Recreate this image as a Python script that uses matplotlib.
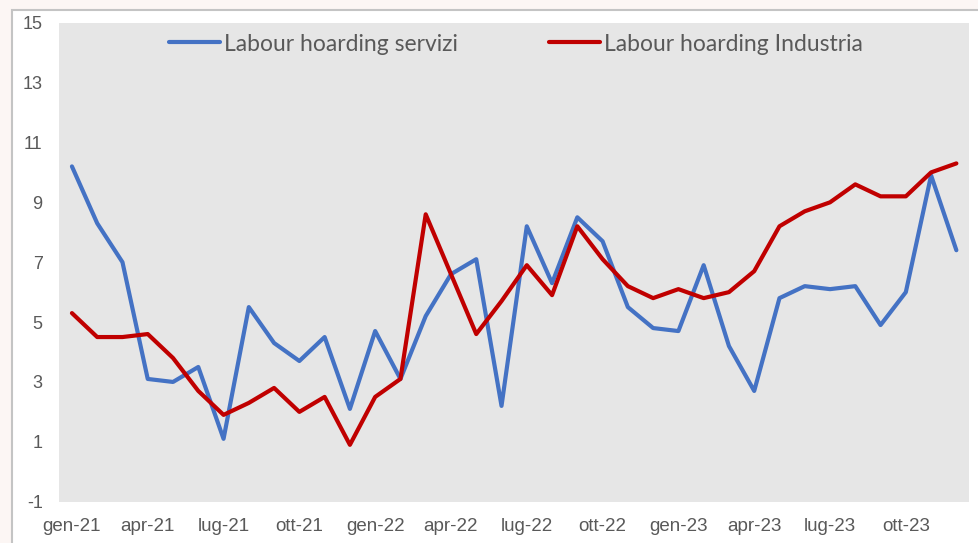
import matplotlib
matplotlib.use("Agg")
import matplotlib.pyplot as plt
from matplotlib.patches import Rectangle

months = ["gen-21", "feb-21", "mar-21", "apr-21", "mag-21", "giu-21", "lug-21", "ago-21", "set-21", "ott-21", "nov-21", "dic-21",
          "gen-22", "feb-22", "mar-22", "apr-22", "mag-22", "giu-22", "lug-22", "ago-22", "set-22", "ott-22", "nov-22", "dic-22",
          "gen-23", "feb-23", "mar-23", "apr-23", "mag-23", "giu-23", "lug-23", "ago-23", "set-23", "ott-23", "nov-23", "dic-23"]

servizi = [10.2, 8.3, 7.0, 3.1, 3.0, 3.5, 1.1, 5.5, 4.3, 3.7, 4.5, 2.1,
           4.7, 3.1, 5.2, 6.6, 7.1, 2.2, 8.2, 6.3, 8.5, 7.7, 5.5, 4.8,
           4.7, 6.9, 4.2, 2.7, 5.8, 6.2, 6.1, 6.2, 4.9, 6.0, 9.9, 7.4]

industria = [5.3, 4.5, 4.5, 4.6, 3.8, 2.7, 1.9, 2.3, 2.8, 2.0, 2.5, 0.9,
             2.5, 3.1, 8.6, 6.6, 4.6, 5.7, 6.9, 5.9, 8.2, 7.1, 6.2, 5.8,
             6.1, 5.8, 6.0, 6.7, 8.2, 8.7, 9.0, 9.6, 9.2, 9.2, 10.0, 10.3]

series_names = ["Labour hoarding servizi", "Labour hoarding Industria"]
y_ticks = [-1, 1, 3, 5, 7, 9, 11, 13, 15]

W, H = 979, 543
fig = plt.figure(figsize=(W / 100, H / 100), dpi=100)
fig.patch.set_facecolor("#fcf6f4")

# white chart area with grey border (top and left)
fig.patches.append(Rectangle((12.5 / W, -0.05), 1.1, (H - 10) / H + 0.05,
                             transform=fig.transFigure, facecolor="white",
                             edgecolor="#c4c4c4", linewidth=1.5, zorder=-5))

left, right = 59.3 / W, 969 / W
bottom, top = 1 - 501.7 / H, 1 - 22.7 / H
ax = fig.add_axes([left, bottom, right - left, top - bottom])
ax.set_zorder(1)
ax.set_facecolor("#e6e6e6")

x = list(range(len(months)))
ax.plot(x, servizi, color="#4472C4", lw=3.0, solid_joinstyle="round", solid_capstyle="round", label=series_names[0])
ax.plot(x, industria, color="#C00000", lw=3.0, solid_joinstyle="round", solid_capstyle="round", label=series_names[1])

ax.set_xlim(-0.5, len(months) - 0.5)
ax.set_ylim(-1, 15)
ax.set_yticks(y_ticks)
ax.set_yticklabels([str(v) for v in y_ticks])
ax.set_xticks(x[::3])
ax.set_xticklabels(months[::3])
ax.tick_params(axis="both", length=0, labelcolor="#595959")
ax.tick_params(axis="y", pad=12, labelsize=13)
ax.tick_params(axis="x", pad=12, labelsize=13.5)
for lab in ax.get_xticklabels() + ax.get_yticklabels():
    lab.set_fontfamily("Liberation Sans")
for s in ax.spines.values():
    s.set_visible(False)

leg = ax.legend(loc="center", bbox_to_anchor=(0.502, 0.9555), ncol=2, frameon=False,
                handlelength=2.2, handletextpad=0.18, columnspacing=4.0,
                prop={"family": "Lato", "size": 16.5})
for t in leg.get_texts():
    t.set_color("#595959")

fig.savefig("out.png", dpi=100, facecolor=fig.get_facecolor())
